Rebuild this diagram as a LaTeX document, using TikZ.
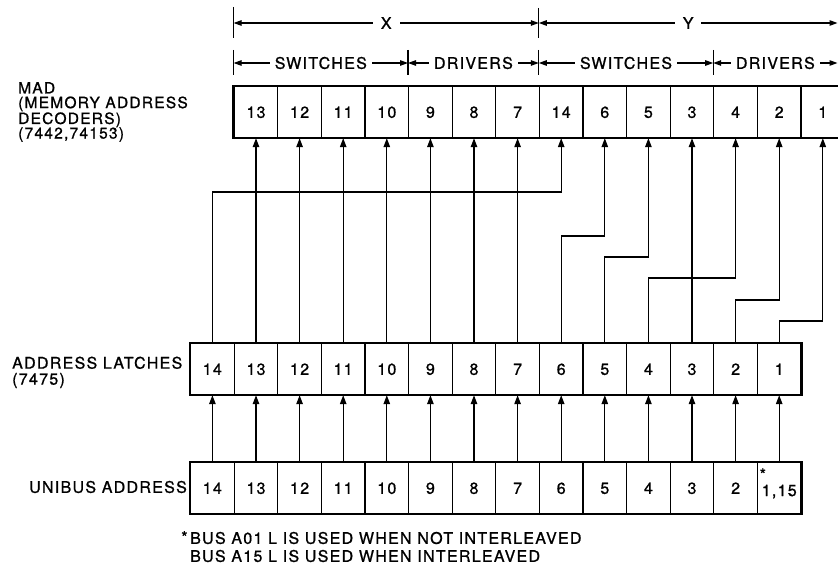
\documentclass[tikz,border=0pt]{standalone}
\usepackage{fontspec}
\newfontfamily\lettering{TeX Gyre Heros}[LetterSpace=8,FakeBold=1]
\usetikzlibrary{arrows.meta}
\begin{document}
\begin{tikzpicture}[x=1pt,y=-1pt,
  every node/.style={font=\lettering\fontsize{16}{14}\selectfont, inner sep=0pt},
  cell/.style={draw, line width=1.2pt, minimum width=43.6pt, minimum height=51pt,
    anchor=north west, text height=11.5pt, text depth=0pt},
  outer/.style={line width=2.3pt},
  conn/.style={line width=1.25pt, -{Triangle[length=9pt,width=6.5pt]}},
  dim/.style={line width=1.2pt, {Triangle[length=8pt,width=5.5pt]}-{Triangle[length=8pt,width=5.5pt]}},
  tick/.style={line width=1.2pt},
  dimlabel/.style={fill=white, inner xsep=5pt, inner ysep=2pt},
  lbl/.style={align=left, anchor=north west}
]
\useasboundingbox (0,0) rectangle (838,567);
\clip (0,0) rectangle (838,567);

% MAD row
\foreach \n [count=\i from 0] in {13,12,11,10,9,8,7,14,6,5,3,4,2,1}
  \node[cell] (mad\n) at ({233.6+43.6*\i},86) {\n};
\draw[outer] (mad13.north west) rectangle (mad1.south east);

% address latches
\foreach \n [count=\i from 0] in {14,13,...,1}
  \node[cell] (lat\n) at ({190+43.6*\i},343) {\n};
\draw[outer] (lat14.north west) rectangle (lat1.south east);

% unibus address
\foreach \n [count=\i from 0] in {14,13,...,2}
  \node[cell] (uni\n) at ({190+43.6*\i},462) {\n};
\node[cell] (uni1) at ({190+43.6*13},462) {};
\node[anchor=base] (uni1txt) at ([yshift=-8pt]uni1.center) {1,15};
\node[anchor=base west] (uni1ast) at ([xshift=-2pt,yshift=16pt]uni1txt.base west) {*};
\draw[outer] (uni14.north west) rectangle (uni1.south east);

% labels
\node[lbl, font=\lettering\fontsize{15.5}{14.6}\selectfont] (madlbl) at (18,82)
  {MAD\\(MEMORY ADDRESS\\DECODERS)\\(7442,74153)};
\node[lbl, font=\lettering\fontsize{16}{16}\selectfont] (latlbl) at (12,356.5)
  {ADDRESS LATCHES\\(7475)};
\node[anchor=east] (unilbl) at (187,487) {UNIBUS ADDRESS};
\node[lbl, font=\lettering\fontsize{16}{18}\selectfont] (note) at (190,531)
  {\llap{\raisebox{1pt}{*}\,}BUS A01 L IS USED WHEN NOT INTERLEAVED\\BUS A15 L IS USED WHEN INTERLEAVED};

% dimension ticks
\draw[tick] (mad13.north west |- 0,7) -- (mad13.north west |- 0,38);
\draw[tick] (mad14.north west |- 0,8) -- (mad14.north west |- 0,38);
\draw[tick] (mad13.north west |- 0,50) -- (mad13.north west |- 0,75);
\draw[tick] (mad9.north west |- 0,50) -- (mad9.north west |- 0,75);
\draw[tick] (mad14.north west |- 0,50) -- (mad14.north west |- 0,75);
\draw[tick] (mad4.north west |- 0,50) -- (mad4.north west |- 0,75);
\coordinate (rend1) at (837.5,23);
\coordinate (rend2) at (837.5,63);

% dimension lines
\draw[dim] (mad13.north west |- 0,23) -- node[dimlabel, inner xsep=8pt] (xlbl) {X} (mad14.north west |- 0,23);
\draw[dim] (mad14.north west |- 0,23) -- node[dimlabel, inner xsep=8pt] (ylbl) {Y} (rend1);
\draw[dim] (mad13.north west |- 0,63) -- node[dimlabel] (sw1) {SWITCHES} (mad9.north west |- 0,63);
\draw[dim] (mad9.north west |- 0,63) -- node[dimlabel] (dr1) {DRIVERS} (mad14.north west |- 0,63);
\draw[dim] (mad14.north west |- 0,63) -- node[dimlabel] (sw2) {SWITCHES} (mad4.north west |- 0,63);
\draw[dim] (mad4.north west |- 0,63) -- node[dimlabel] (dr2) {DRIVERS} (rend2);

% latches -> MAD
\foreach \n in {13,12,11,10,9,8,7,3}
  \draw[conn] (lat\n.north) -- (mad\n.south);
\draw[conn] (lat14.north) -- (lat14.north |- 0,192) -| (mad14.south);
\draw[conn] (lat6.north) -- (lat6.north |- 0,236) -| (mad6.south);
\draw[conn] (lat5.north) -- (lat5.north |- 0,257) -| (mad5.south);
\draw[conn] (lat4.north) -- (lat4.north |- 0,278) -| (mad4.south);
\draw[conn] (lat2.north) -- (lat2.north |- 0,300) -| (mad2.south);
\draw[conn] (lat1.north) -- (lat1.north |- 0,321) -| (mad1.south);

% unibus -> latches
\foreach \n in {14,13,...,1}
  \draw[conn] (uni\n.north) -- (lat\n.south);
\end{tikzpicture}
\end{document}
